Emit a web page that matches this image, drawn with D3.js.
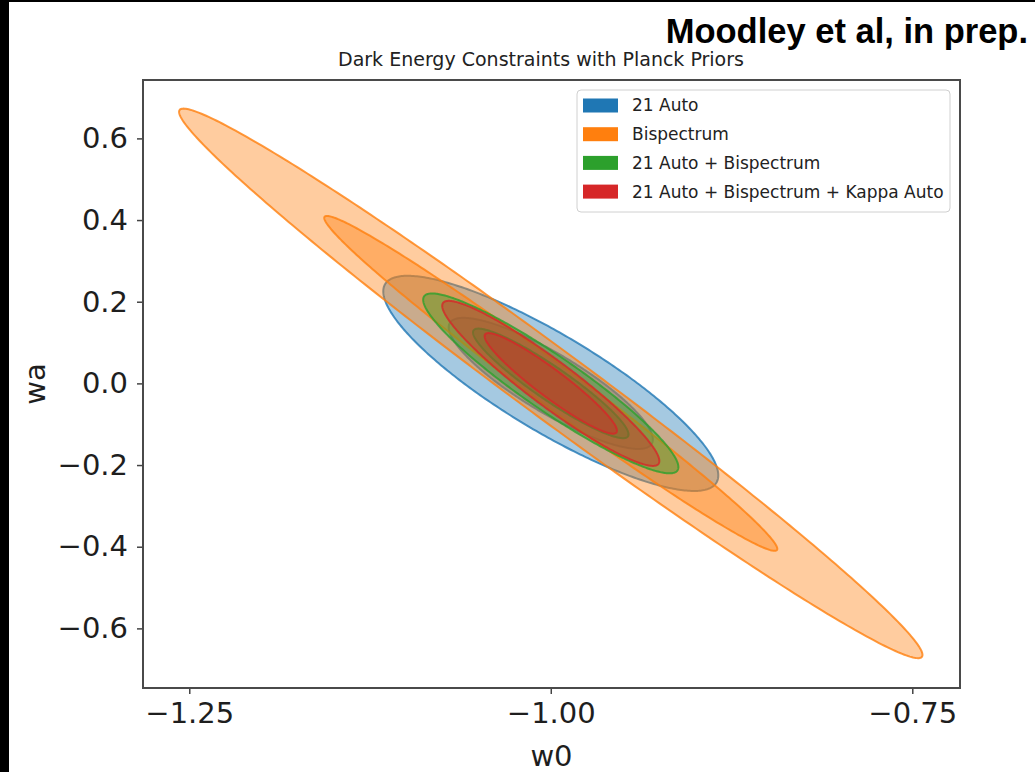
<!DOCTYPE html>
<html>
<head>
<meta charset="utf-8">
<script src="https://cdn.jsdelivr.net/npm/d3@7"></script>
<style>
  html, body { margin: 0; padding: 0; background: #fff; }
  svg { display: block; }
</style>
</head>
<body>
<svg id="chart" width="1035" height="772"></svg>
<script>
// Forecast constraints on (w0, wa): marginal errors and correlation per probe combination
const seriesNames = ["21 Auto", "Bispectrum", "21 Auto + Bispectrum", "21 Auto + Bispectrum + Kappa Auto"];
const sigmaW0 = [0.0466, 0.1034, 0.0355, 0.0302];
const sigmaWa = [0.1060, 0.2707, 0.0886, 0.0813];
const corrW0Wa = [-0.855, -0.988, -0.93, -0.94];
const fiducial = [-1.0, 0.0];
// sqrt(delta chi^2) for 2-parameter 95.4% and 68.3% regions
const contourScales = [2.486, 1.515];
const w0Ticks = [-1.25, -1.00, -0.75];
const waTicks = [-0.6, -0.4, -0.2, 0.0, 0.2, 0.4, 0.6];
const w0Limits = [-1.282, -0.717];
const waLimits = [-0.746, 0.743];

const palette = ["#1f77b4", "#ff7f0e", "#2ca02c", "#d62728"];

const svg = d3.select("#chart");
const plot = { left: 143, right: 960, top: 80, bottom: 688 };

const x = d3.scaleLinear().domain(w0Limits).range([plot.left, plot.right]);
const y = d3.scaleLinear().domain(waLimits).range([plot.bottom, plot.top]);

svg.append("rect").attr("width", 1035).attr("height", 772).attr("fill", "#fff");

svg.append("defs").append("clipPath").attr("id", "plot-clip")
  .append("rect")
  .attr("x", plot.left).attr("y", plot.top)
  .attr("width", plot.right - plot.left).attr("height", plot.bottom - plot.top);

// Confidence ellipse from the 2x2 covariance (Cholesky factor applied to a unit circle)
function ellipsePoints(i, k) {
  const sx = sigmaW0[i], sy = sigmaWa[i], r = corrW0Wa[i];
  const pts = [];
  for (let deg = 0; deg < 360; deg += 1) {
    const t = deg * Math.PI / 180;
    const c = Math.cos(t), s = Math.sin(t);
    pts.push([
      fiducial[0] + k * sx * c,
      fiducial[1] + k * sy * (r * c + Math.sqrt(1 - r * r) * s)
    ]);
  }
  return pts;
}

const line = d3.line()
  .x(d => x(d[0]))
  .y(d => y(d[1]))
  .curve(d3.curveLinearClosed);

const gEll = svg.append("g").attr("clip-path", "url(#plot-clip)");
seriesNames.forEach((name, i) => {
  contourScales.forEach(k => {
    gEll.append("path")
      .attr("d", line(ellipsePoints(i, k)))
      .attr("fill", palette[i])
      .attr("fill-opacity", 0.4)
      .attr("stroke", palette[i])
      .attr("stroke-opacity", 0.8)
      .attr("stroke-width", 2);
  });
});

// Axes
const tickFont = "'DejaVu Sans', sans-serif";
const xAxis = svg.append("g")
  .attr("transform", `translate(0,${plot.bottom})`)
  .call(d3.axisBottom(x).tickValues(w0Ticks).tickFormat(d3.format(".2f")).tickSize(6).tickPadding(8));
const yAxis = svg.append("g")
  .attr("transform", `translate(${plot.left},0)`)
  .call(d3.axisLeft(y).tickValues(waTicks).tickFormat(d3.format(".1f")).tickSize(6).tickPadding(9));

[xAxis, yAxis].forEach(g => {
  g.select(".domain").remove();
  g.selectAll(".tick line").attr("stroke", "#444").attr("stroke-width", 1.5);
  g.selectAll(".tick text")
    .attr("fill", "#1e1e1e")
    .style("font-family", tickFont)
    .style("font-size", "29px");
});

// Frame
svg.append("rect")
  .attr("x", plot.left).attr("y", plot.top)
  .attr("width", plot.right - plot.left).attr("height", plot.bottom - plot.top)
  .attr("fill", "none").attr("stroke", "#4a4a4a").attr("stroke-width", 2);

// Axis labels
svg.append("text")
  .attr("x", (plot.left + plot.right) / 2).attr("y", 766)
  .attr("text-anchor", "middle")
  .style("font-family", tickFont).style("font-size", "29px").attr("fill", "#1e1e1e")
  .text("w0");
svg.append("text")
  .attr("transform", `translate(45,${(plot.top + plot.bottom) / 2}) rotate(-90)`)
  .attr("text-anchor", "middle")
  .style("font-family", tickFont).style("font-size", "29px").attr("fill", "#1e1e1e")
  .text("wa");

// Title
svg.append("text")
  .attr("x", 541).attr("y", 66)
  .attr("text-anchor", "middle")
  .style("font-family", tickFont).style("font-size", "19px").attr("fill", "#222")
  .text("Dark Energy Constraints with Planck Priors");

// Citation
svg.append("text")
  .attr("x", 1028).attr("y", 43)
  .attr("text-anchor", "end")
  .style("font-family", "'Liberation Sans', Arial, sans-serif")
  .style("font-size", "34.5px").style("font-weight", "bold").attr("fill", "#000")
  .text("Moodley et al, in prep.");

// Legend
const legend = svg.append("g");
legend.append("rect")
  .attr("x", 577).attr("y", 90).attr("width", 373).attr("height", 122).attr("rx", 4)
  .attr("fill", "#fff").attr("fill-opacity", 0.8)
  .attr("stroke", "#d0d0d0").attr("stroke-width", 1);
const rowY = i => 105.5 + i * 28.7;
seriesNames.forEach((name, i) => {
  legend.append("rect")
    .attr("x", 583).attr("y", rowY(i) - 7).attr("width", 35).attr("height", 14)
    .attr("fill", palette[i]);
  legend.append("text")
    .attr("x", 632).attr("y", rowY(i)).attr("dy", "0.35em")
    .style("font-family", tickFont).style("font-size", "17px").attr("fill", "#222")
    .text(name);
});

// Edge bars
svg.append("rect").attr("x", 0).attr("y", 0).attr("width", 9).attr("height", 772).attr("fill", "#000");
svg.append("rect").attr("x", 0).attr("y", 0).attr("width", 1035).attr("height", 2).attr("fill", "#000");
</script>
</body>
</html>
